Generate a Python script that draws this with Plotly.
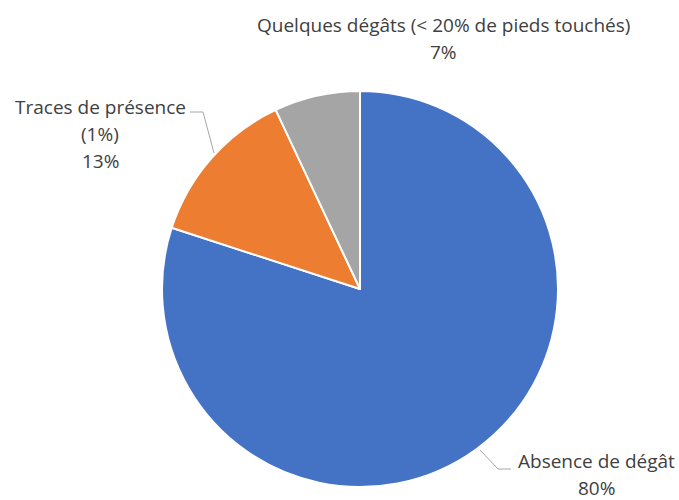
import plotly.graph_objects as go

# donnees du graphique
categories = ["Absence de dégât", "Traces de présence", "Quelques dégâts (< 20% de pieds touchés)"]
sous_titres = ["", "(1%)", ""]
valeurs = [80, 13, 7]
couleurs = ["#4472C4", "#ED7D31", "#A5A5A5"]

W, H = 679, 500


def px(x, y):
    # pixels -> coordonnees papier
    return x / W, 1 - y / H


cx, cy, r = 360, 289, 198
fig = go.Figure(go.Pie(
    labels=categories,
    values=valeurs,
    sort=False,
    direction="clockwise",
    rotation=0,
    marker=dict(colors=couleurs, line=dict(color="white", width=2)),
    textinfo="none",
    hoverinfo="label+percent",
    domain=dict(x=[(cx - r) / W, (cx + r) / W], y=[1 - (cy + r) / H, 1 - (cy - r) / H]),
))

total = sum(valeurs)
pct = [f"{round(v * 100 / total)}%" for v in valeurs]

# position des etiquettes (centre x, y de la premiere ligne, en pixels)
pos_etiquettes = [(596, 461), (100, 107), (443, 25)]
interligne = 27
for lab, sous, p, (x, y) in zip(categories, sous_titres, pct, pos_etiquettes):
    lignes = [lab] + ([sous] if sous else []) + [p]
    for i, txt in enumerate(lignes):
        xp, yp = px(x, y + i * interligne)
        fig.add_annotation(x=xp, y=yp, xref="paper", yref="paper", text=txt,
                           showarrow=False, xanchor="center", yanchor="middle",
                           font=dict(family="Open Sans", size=19, color="#404040"))

# lignes de rappel
traits = [
    [(190, 112), (203, 112), (214, 153)],
    [(480, 450), (498, 469), (511, 469)],
]
for t in traits:
    pts = [px(*q) for q in t]
    path = "M " + " L ".join(f"{a},{b}" for a, b in pts)
    fig.add_shape(type="path", path=path, xref="paper", yref="paper",
                  line=dict(color="#A6A6A6", width=1))

fig.update_layout(
    width=W, height=H,
    margin=dict(l=0, r=0, t=0, b=0),
    showlegend=False,
    paper_bgcolor="white",
    plot_bgcolor="white",
)

# pas de marge autour de la page, pas de barre d'outils
fig.write_html("out.html", config={"displayModeBar": False},
               post_script="document.body.style.margin='0';")
